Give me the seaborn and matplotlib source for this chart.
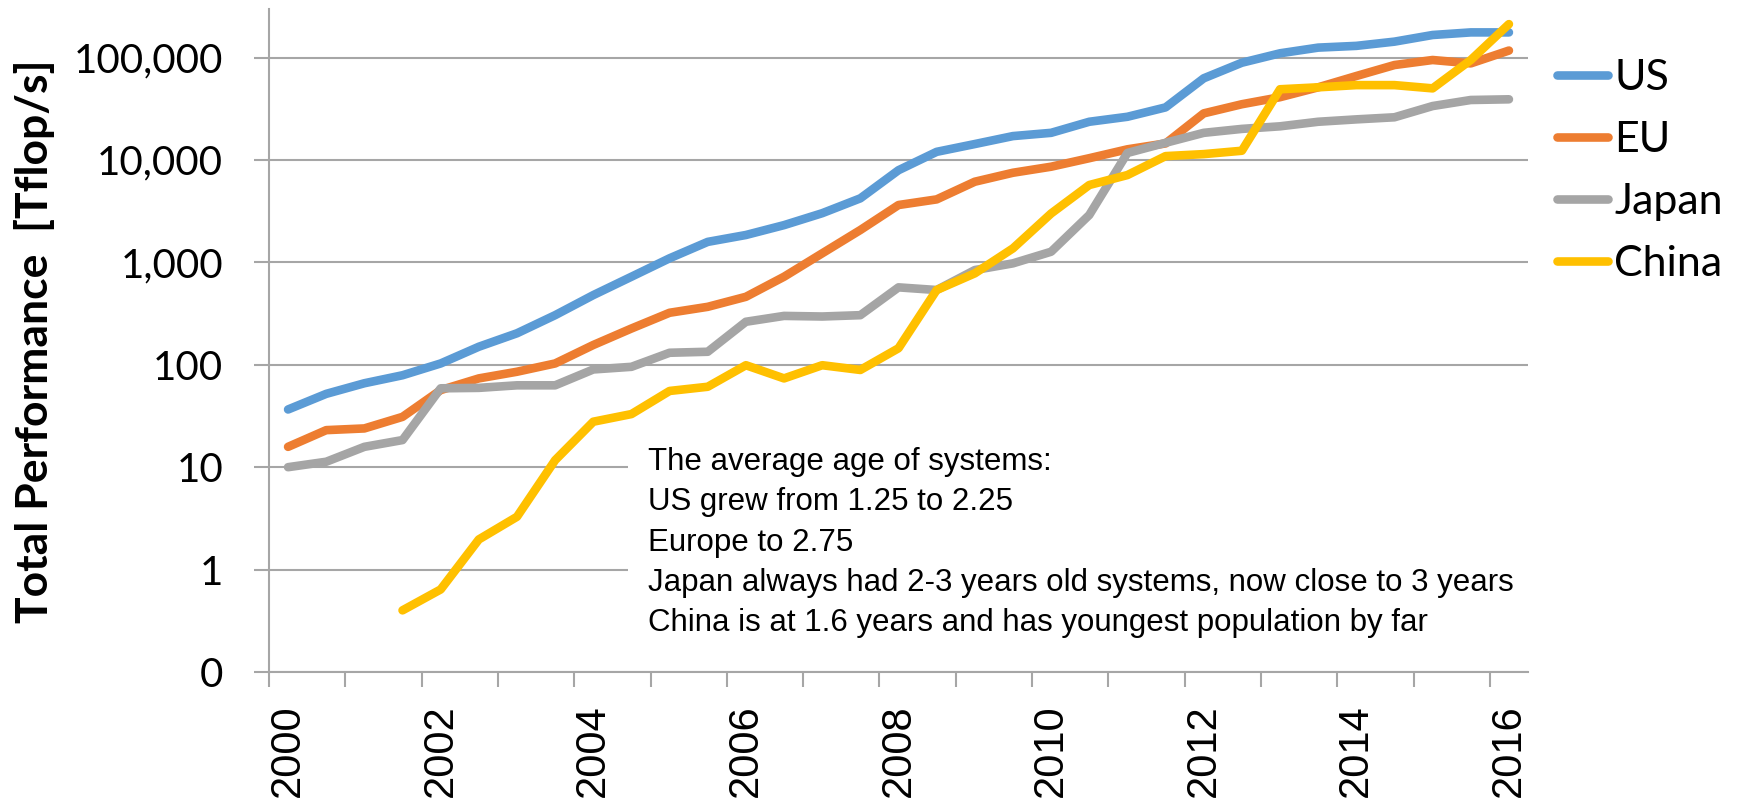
import numpy as np
import pandas as pd
import matplotlib
matplotlib.use("Agg")
import matplotlib.pyplot as plt
import seaborn as sns
from matplotlib.ticker import FixedLocator, FixedFormatter, NullFormatter, NullLocator

# Half-yearly TOP500 lists (June / November), 2000 through June 2016
periods = [f"{y}-{m}" for y in range(2000, 2017) for m in ("06", "11")][:33]
year_labels = ["2000", "2002", "2004", "2006", "2008", "2010", "2012", "2014", "2016"]

regions = ["US", "EU", "Japan", "China"]
colors = ["#5B9BD5", "#ED7D31", "#A5A5A5", "#FFC000"]

# Total performance per region [Tflop/s]
us = [36.6, 52, 66, 79, 103, 150, 203, 305, 479, 724,
      1096, 1585, 1850, 2310, 3020, 4220, 7940, 12000, 14300, 17100,
      18400, 23600, 26400, 32600, 62700, 89000, 110000, 125000, 130000, 143000,
      166000, 176000, 176000]
eu = [15.8, 23, 23.9, 31, 56.6, 73.6, 85.5, 103, 156, 226,
      322, 368, 461, 724, 1225, 2070, 3630, 4120, 6130, 7500,
      8590, 10400, 12700, 14500, 28500, 35000, 41000, 51200, 66000, 84500,
      94600, 87700, 117000]
japan = [10, 11.3, 15.8, 18.4, 58.9, 59.5, 63, 63, 90, 95.5,
         131, 134, 263, 300, 296, 305, 570, 537, 841, 978,
         1270, 2900, 11700, 14700, 18400, 20100, 21300, 23600, 24900, 26100,
         33600, 38500, 39100]
china = [np.nan, np.nan, np.nan, 0.40, 0.64, 1.97, 3.28, 11.7, 27.8, 33,
         55.5, 61, 99, 73.6, 99, 89, 145, 537, 781, 1370,
         3000, 5690, 7120, 10900, 11400, 12300, 49000, 51200, 53800, 53800,
         50000, 94600, 212000]

y_ticks = [0.1, 1, 10, 100, 1000, 10000, 100000]
y_ticklabels = ["0", "1", "10", "100", "1,000", "10,000", "100,000"]

note = ("The average age of systems:\n"
        "US grew from 1.25 to 2.25\n"
        "Europe to 2.75\n"
        "Japan always had 2-3 years old systems, now close to 3 years\n"
        "China is at 1.6 years and has youngest population by far")

df = pd.DataFrame({
    "period": periods * 4,
    "region": np.repeat(regions, len(periods)),
    "tflops": us + eu + japan + china,
})
df["pos"] = pd.Categorical(df["period"], categories=periods).codes
df = df.dropna()

sns.set_style("white")
plt.rcParams["font.family"] = ["Lato", "DejaVu Sans"]
plt.rcParams["text.color"] = "black"
plt.rcParams["xtick.labelcolor"] = "black"
plt.rcParams["ytick.labelcolor"] = "black"

fig = plt.figure(figsize=(17.42, 8.01), dpi=100)
ax = fig.add_axes([269 / 1742, 1 - 672 / 801, 1259 / 1742, 663 / 801])

sns.lineplot(data=df, x="pos", y="tflops", hue="region", hue_order=regions,
             palette=colors, linewidth=6.2, estimator=None, sort=False, ax=ax,
             solid_capstyle="round", solid_joinstyle="round")

ax.set_yscale("log")
ax.set_ylim(0.1, 10 ** 5.474)
ax.set_xlim(-0.5, len(periods) - 0.5)

grid_c = "#A6A6A6"
ax.yaxis.set_major_locator(FixedLocator(y_ticks))
ax.yaxis.set_major_formatter(FixedFormatter(y_ticklabels))
ax.yaxis.set_minor_locator(NullLocator())
ax.grid(axis="y", color=grid_c, linewidth=1.5, zorder=0)
ax.grid(axis="x", visible=False)
ax.set_axisbelow(True)

# tick marks sit on the boundaries of every second period
ax.xaxis.set_major_locator(FixedLocator(np.arange(-0.5, len(periods) - 1, 2)))
ax.xaxis.set_major_formatter(NullFormatter())
label_pos = [periods.index(f"{y}-06") for y in year_labels]
ax.xaxis.set_minor_locator(FixedLocator(label_pos))
ax.xaxis.set_minor_formatter(FixedFormatter(year_labels))

ax.tick_params(axis="x", which="major", direction="out", length=11, width=1.5,
               color=grid_c, bottom=True)
ax.tick_params(axis="x", which="minor", length=0, pad=23, labelsize=30,
               labelrotation=90, bottom=True, labelcolor="black")
for t in ax.xaxis.get_minorticklabels():
    t.set_fontfamily(["Liberation Sans", "DejaVu Sans"])
ax.tick_params(axis="y", which="major", direction="out", length=11, width=1.5,
               color=grid_c, pad=22, labelsize=29, left=True, labelcolor="black")

for s in ("top", "right"):
    ax.spines[s].set_visible(False)
for s in ("left", "bottom"):
    ax.spines[s].set_color(grid_c)
    ax.spines[s].set_linewidth(1.5)

ax.set_xlabel("")
ax.set_ylabel("")
fig.text(35 / 1742, 1 - 341 / 801, "Total Performance  [Tflop/s]", rotation=90,
         ha="center", va="center", fontsize=32, fontweight="bold", color="black")

handles, labels = ax.get_legend_handles_labels()
leg = ax.legend(handles, labels, loc="upper left",
                bbox_to_anchor=(1557 / 1742, 1 - 59 / 801), bbox_transform=fig.transFigure,
                frameon=False, fontsize=31, handlelength=1.18, handletextpad=0.15,
                labelspacing=0.56, borderpad=0, borderaxespad=0)
for t in leg.get_texts():
    t.set_color("black")

fig.text(648 / 1742, 1 - 447 / 801, note, ha="left", va="top", fontsize=22.5,
         family=["Liberation Sans", "DejaVu Sans"], linespacing=1.45, color="black",
         bbox=dict(boxstyle="square,pad=0.65", facecolor="white", edgecolor="none"))

fig.savefig("out.png", dpi=100)
